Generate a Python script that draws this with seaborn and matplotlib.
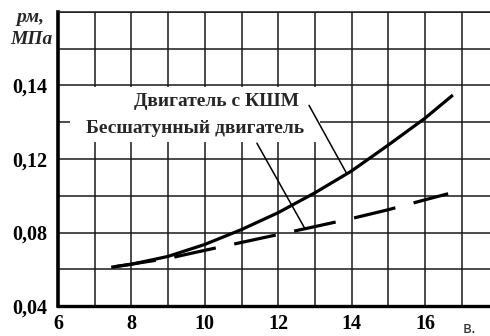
import numpy as np
import pandas as pd
import matplotlib
matplotlib.use("Agg")
import matplotlib.pyplot as plt
from matplotlib.patches import Rectangle
import seaborn as sns

# Mean pressure vs. speed for two engine layouts
x_kshm = [7.45, 8, 9, 10, 11, 12, 13, 14, 15, 16, 16.76]
p_kshm = [0.0611, 0.0627, 0.0670, 0.0735, 0.0816, 0.0908, 0.1016, 0.1135, 0.1238, 0.1311, 0.1374]

x_bessh = [7.45, 9, 10, 11, 12, 13, 14, 15, 16, 16.63]
p_bessh = [0.0611, 0.0659, 0.0703, 0.0746, 0.0789, 0.0832, 0.0876, 0.0924, 0.0978, 0.1011]

label_kshm = "Двигатель с КШМ"
label_bessh = "Бесшатунный двигатель"

x_ticks = [6, 8, 10, 12, 14, 16]
x_minor = [7, 9, 11, 13, 15, 17]
y_ticks = [0.04, 0.08, 0.12, 0.14]
y_tick_labels = ["0,04", "0,08", "0,12", "0,14"]
y_minor = [0.06, 0.10, 0.13, 0.15, 0.16]

sns.set_theme(style="white")
plt.rcParams["font.family"] = ["Liberation Serif", "DejaVu Serif"]
plt.rcParams["font.weight"] = "bold"

df = pd.concat([
    pd.DataFrame({"n": x_kshm, "p": p_kshm, "engine": label_kshm}),
    pd.DataFrame({"n": x_bessh, "p": p_bessh, "engine": label_bessh}),
])

fig = plt.figure(figsize=(4.9, 3.36), dpi=100)
ax = fig.add_axes([58 / 490, 30 / 336, 432 / 490, 294 / 336])

# The printed scale is stretched above 0.12 (0.01 per cell instead of 0.02)
def fwd(y):
    y = np.asarray(y, dtype=float)
    return np.where(y <= 0.12, y, 0.12 + 2 * (y - 0.12))

def inv(t):
    t = np.asarray(t, dtype=float)
    return np.where(t <= 0.12, t, 0.12 + (t - 0.12) / 2)

ax.set_yscale("function", functions=(fwd, inv))

sns.lineplot(data=df, x="n", y="p", hue="engine", style="engine",
             palette=["black", "black"], dashes=False, legend=False,
             sort=False, estimator=None, linewidth=2.3, ax=ax, zorder=4)
lines = ax.get_lines()
lines[1].set_linestyle((18.4, (13.3, 5.9)))
for ln in lines:
    ln.set_solid_capstyle("butt")
    ln.set_dash_capstyle("butt")
    ln.set_solid_joinstyle("round")

ax.set_xlim(6, 6 + 432 / 36.7)
ax.set_ylim(0.04, 0.16)

ax.set_xticks(x_ticks)
ax.set_xticklabels([str(v) for v in x_ticks])
ax.set_xticks(x_minor, minor=True)
ax.set_yticks(y_ticks)
ax.set_yticklabels(y_tick_labels)
ax.set_yticks(y_minor, minor=True)
ax.yaxis.set_minor_formatter(plt.NullFormatter())

ax.set_axisbelow(True)
ax.grid(True, which="both", color="#1a1a1a", linewidth=1.1)
ax.tick_params(axis="both", which="both", length=0, labelsize=14.5,
               colors="black")
ax.tick_params(axis="x", pad=6)
ax.tick_params(axis="y", pad=8)
for lab in ax.get_xticklabels() + ax.get_yticklabels():
    lab.set_fontweight("bold")

ax.set_xlabel("")
ax.set_ylabel("")

for side in ("left", "bottom"):
    ax.spines[side].set_color("black")
ax.spines["left"].set_linewidth(2.6)
ax.spines["bottom"].set_linewidth(2.4)
ax.spines["right"].set_visible(False)
ax.spines["top"].set_color("#1a1a1a")
ax.spines["top"].set_linewidth(1.1)

# White panel behind the curve labels
ax.add_patch(Rectangle((0.028, 0.558), 0.578, 0.187, transform=ax.transAxes,
                       facecolor="white", edgecolor="none", zorder=1))

ax.text(0.367, 0.694, label_kshm, transform=ax.transAxes, ha="center",
        va="center", fontsize=14, fontweight="bold", zorder=5)
ax.text(0.317, 0.605, label_bessh, transform=ax.transAxes, ha="center",
        va="center", fontsize=14, fontweight="bold", zorder=5)

# Leader lines from labels to curves
xk = 13.87
ax.annotate("", xy=(xk, np.interp(xk, x_kshm, p_kshm)), xytext=(12.84, 0.1346),
            arrowprops=dict(arrowstyle="-", color="black", lw=1.1,
                            shrinkA=0, shrinkB=0), zorder=5)
xb = 12.73
ax.annotate("", xy=(xb, np.interp(xb, x_bessh, p_bessh)), xytext=(11.42, 0.1243),
            arrowprops=dict(arrowstyle="-", color="black", lw=1.1,
                            shrinkA=0, shrinkB=0), zorder=5)

# Axis caption
fig.text(30 / 490, 1 - 17 / 336, "pм,", ha="center", va="center",
         fontsize=14, fontweight="bold", fontstyle="italic")
fig.text(31 / 490, 1 - 39 / 336, "МПа", ha="center", va="center",
         fontsize=14, fontweight="bold", fontstyle="italic")
fig.text(463 / 490, 1 - 333 / 336, "в.", ha="left", va="baseline",
         fontsize=11, fontweight="normal", color="#333333",
         family=["DejaVu Sans"])

fig.savefig("out.png", dpi=100)
